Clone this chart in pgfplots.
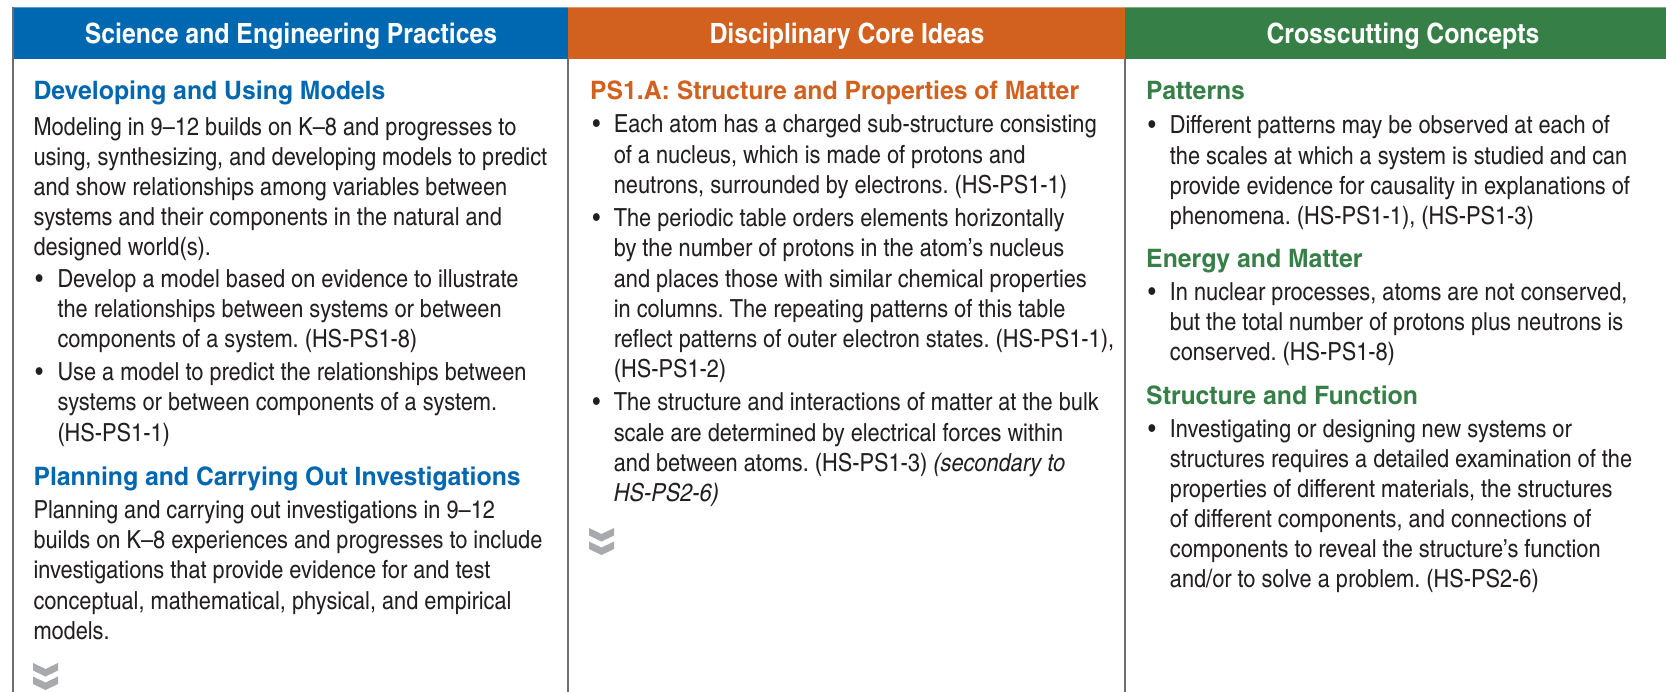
\documentclass[border=0pt]{standalone}
\usepackage{fontspec}
\setmainfont{texgyreheroscn}[Extension=.otf, UprightFont=*-regular, BoldFont=*-bold, ItalicFont=*-italic, BoldItalicFont=*-bolditalic, FakeStretch=1.065]
\newfontfamily\hfont{texgyreheroscn-bold}[Extension=.otf, FakeStretch=1.19]
\newfontfamily\tfont{texgyreheroscn-bold}[Extension=.otf, FakeStretch=1.085]
\usepackage{pgfplots}
\pgfplotsset{compat=1.18}
\definecolor{hblue}{HTML}{0067B1}
\definecolor{horange}{HTML}{D2601E}
\definecolor{hgreen}{HTML}{368048}
\definecolor{txt}{HTML}{231F20}
\definecolor{chev}{HTML}{A7A9AC}
\definecolor{rule}{HTML}{6D6E71}
\frenchspacing
\newcommand{\bodyf}{\fontsize{25}{30}\selectfont}
\newcommand{\headf}{\hfont\fontsize{25.5}{30}\selectfont}
\newcommand{\topf}{\tfont\fontsize{28}{32}\selectfont}
\newcommand{\T}[3]{\node[anchor=base west, inner sep=0pt, font=\bodyf, text=txt] at (axis cs:#1,#2) {#3};}
\newcommand{\Bu}[2]{\node[anchor=base, inner sep=0pt, font=\bodyf, text=txt] at (axis cs:#1,#2) {\textbullet};}
\newcommand{\Hd}[4]{\node[anchor=base west, inner sep=0pt, font=\headf, text=#4] at (axis cs:#1,#2) {#3};}
\begin{document}
\begin{tikzpicture}
\begin{axis}[width=1666bp, height=692bp, scale only axis, xmin=0, xmax=1666, ymin=0, ymax=692, y dir=reverse, hide axis, clip=false]
% header bands
\addplot[fill=hblue, draw=none] coordinates {(12,7.3) (568,7.3) (568,59) (12,59) (12,7.3)};
\addplot[fill=horange, draw=none] coordinates {(568,7.3) (1125,7.3) (1125,59) (568,59) (568,7.3)};
\addplot[fill=hgreen, draw=none] coordinates {(1125,7.3) (1666,7.3) (1666,59) (1125,59) (1125,7.3)};
% column rules
\addplot[rule, line width=2bp] coordinates {(13,7.3) (13,692)};
\addplot[rule, line width=2bp] coordinates {(568,59) (568,692)};
\addplot[rule, line width=2bp] coordinates {(1125,59) (1125,692)};
% chevrons
\addplot[fill=chev, draw=none] coordinates {(33,663) (45.5,669) (58,663) (58,670.5) (45.5,676.5) (33,670.5) (33,663)};
\addplot[fill=chev, draw=none] coordinates {(33,676.5) (45.5,682.5) (58,676.5) (58,684) (45.5,690) (33,684) (33,676.5)};
\addplot[fill=chev, draw=none] coordinates {(589,528) (601.5,534) (614,528) (614,535.5) (601.5,541.5) (589,535.5) (589,528)};
\addplot[fill=chev, draw=none] coordinates {(589,541.5) (601.5,547.5) (614,541.5) (614,549) (601.5,555) (589,549) (589,541.5)};
% header texts
\node[anchor=base, font=\topf, text=white, inner sep=0pt] at (axis cs:291,43.3) {Science and Engineering Practices};
\node[anchor=base, font=\topf, text=white, inner sep=0pt] at (axis cs:847,43.3) {Disciplinary Core Ideas};
\node[anchor=base, font=\topf, text=white, inner sep=0pt] at (axis cs:1403,43.3) {Crosscutting Concepts};
% left column
\Hd{33.3}{99.3}{Developing and Using Models}{hblue}
\T{33.3}{135.5}{Modeling in 9–12 builds on K–8 and progresses to}
\T{33.3}{165.4}{using, synthesizing, and developing models to predict}
\T{33.3}{195.3}{and show relationships among variables between}
\T{33.3}{225.2}{systems and their components in the natural and}
\T{33.3}{255.1}{designed world(s).}
\Bu{39.3}{287.5}
\T{57.3}{287.5}{Develop a model based on evidence to illustrate}
\T{57.3}{317.6}{the relationships between systems or between}
\T{57.3}{347.7}{components of a system. (HS-PS1-8)}
\Bu{39.3}{380.8}
\T{57.3}{380.8}{Use a model to predict the relationships between}
\T{57.3}{410.9}{systems or between components of a system.}
\T{57.3}{441}{(HS-PS1-1)}
\Hd{33.3}{485}{Planning and Carrying Out Investigations}{hblue}
\T{33.3}{518.5}{Planning and carrying out investigations in 9–12}
\T{33.3}{548.7}{builds on K–8 experiences and progresses to include}
\T{33.3}{578.9}{investigations that provide evidence for and test}
\T{33.3}{609.1}{conceptual, mathematical, physical, and empirical}
\T{33.3}{639.3}{models.}
% middle column
\Hd{589.8}{99.3}{PS1.A: Structure and Properties of Matter}{horange}
\Bu{596.4}{133}
\T{613.6}{133}{Each atom has a charged sub-structure consisting}
\T{613.6}{163.1}{of a nucleus, which is made of protons and}
\T{613.6}{193.2}{neutrons, surrounded by electrons. (HS-PS1-1)}
\Bu{596.4}{226.8}
\T{613.6}{226.8}{The periodic table orders elements horizontally}
\T{613.6}{256.9}{by the number of protons in the atom’s nucleus}
\T{613.6}{287}{and places those with similar chemical properties}
\T{613.6}{317.1}{in columns. The repeating patterns of this table}
\T{613.6}{347.2}{reflect patterns of outer electron states. (HS-PS1-1),}
\T{613.6}{377.3}{(HS-PS1-2)}
\Bu{596.4}{410.9}
\T{613.6}{410.9}{The structure and interactions of matter at the bulk}
\T{613.6}{441}{scale are determined by electrical forces within}
\T{613.6}{471.1}{and between atoms. (HS-PS1-3) \textit{(secondary to}}
\T{613.6}{501.8}{\textit{HS-PS2-6)}}
% right column
\Hd{1146}{99.3}{Patterns}{hgreen}
\Bu{1152}{134}
\T{1169.7}{134}{Different patterns may be observed at each of}
\T{1169.7}{164.1}{the scales at which a system is studied and can}
\T{1169.7}{194.2}{provide evidence for causality in explanations of}
\T{1169.7}{224.3}{phenomena. (HS-PS1-1), (HS-PS1-3)}
\Hd{1146}{267}{Energy and Matter}{hgreen}
\Bu{1152}{300.5}
\T{1169.7}{300.5}{In nuclear processes, atoms are not conserved,}
\T{1169.7}{330.6}{but the total number of protons plus neutrons is}
\T{1169.7}{360.7}{conserved. (HS-PS1-8)}
\Hd{1146}{404.5}{Structure and Function}{hgreen}
\Bu{1152}{437.5}
\T{1169.7}{437.5}{Investigating or designing new systems or}
\T{1169.7}{467.6}{structures requires a detailed examination of the}
\T{1169.7}{497.7}{properties of different materials, the structures}
\T{1169.7}{527.8}{of different components, and connections of}
\T{1169.7}{557.9}{components to reveal the structure’s function}
\T{1169.7}{587.5}{and/or to solve a problem. (HS-PS2-6)}
\end{axis}
\pgfresetboundingbox
\path[use as bounding box] (0,0) rectangle (1666bp,692bp);
\end{tikzpicture}
\end{document}
